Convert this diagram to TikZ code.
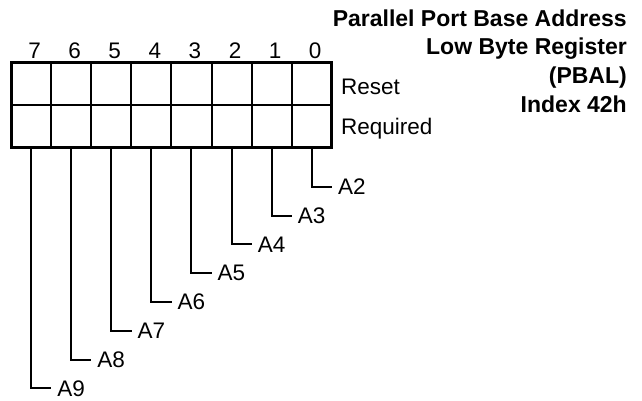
\documentclass[tikz,border=0pt]{standalone}
\usepackage{fontspec}
\setmainfont{Liberation Sans}
\begin{document}
\begin{tikzpicture}[x=1pt,y=-1pt,
  cell/.style={draw,line width=2pt,minimum width=40.1pt,minimum height=42.5pt,inner sep=0pt,outer sep=0pt},
  frame/.style={line width=3pt},
  wire/.style={line width=2pt},
  lbl/.style={font=\fontsize{22.5}{27}\selectfont,inner sep=0pt},
  addr/.style={font=\fontsize{22.5}{27}\selectfont,inner sep=6pt,outer sep=0pt,anchor=west},
  title/.style={font=\fontsize{23}{28}\selectfont\bfseries,inner sep=0pt,anchor=base east}]
\useasboundingbox (0,0) rectangle (642,401);
\foreach \b in {7,...,0}{
  \pgfmathsetmacro{\cx}{11+40.1*(7-\b+0.5)}
  \node[cell] (r\b) at (\cx,83.65) {};
  \node[cell] (q\b) at (\cx,126.15) {};
  \node[lbl,anchor=base] (b\b) at (\cx+3.5,58.3) {\b};
}
\draw[frame] (r7.north west) rectangle (q0.south east);
\node[lbl,anchor=base west] (reset) at (341,94.5) {Reset};
\node[lbl,anchor=base west] (req) at (341,134.5) {Required};
\node[title] (t1) at (627,26.7) {Parallel Port Base Address};
\node[title] (t2) at (627,55) {Low Byte Register};
\node[title] (t3) at (627,84) {(PBAL)};
\node[title] (t4) at (627,112.7) {Index 42h};
\foreach \b [evaluate=\b as \n using int(\b+2)] in {0,...,7}{
  \node[addr] (a\b) at (332-40.1*\b,186.7+28.8*\b) {A\n};
  \draw[wire] (q\b.south) |- (a\b.west);
}
\end{tikzpicture}
\end{document}
